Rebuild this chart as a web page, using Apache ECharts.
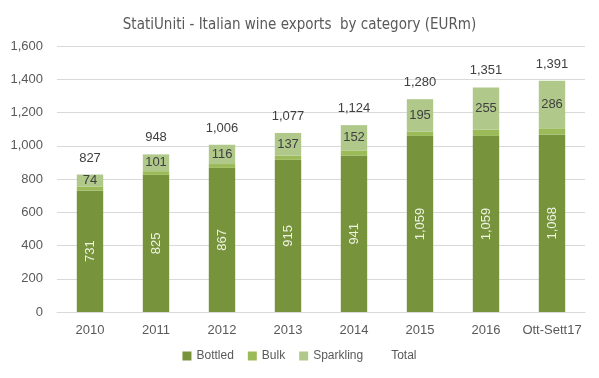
<!DOCTYPE html>
<html>
<head>
<meta charset="utf-8">
<script src="https://cdn.jsdelivr.net/npm/echarts@6/dist/echarts.min.js"></script>
<style>html,body{margin:0;padding:0;background:#fff}#c{width:599px;height:378px}</style>
</head>
<body>
<div id="c"></div>
<script>
var categories = ['2010','2011','2012','2013','2014','2015','2016','Ott-Sett17'];
var bottled = [731, 825, 867, 915, 941, 1059, 1059, 1068];
var bulk = [22, 22, 23, 25, 31, 26, 37, 37];
var sparkling = [74, 101, 116, 137, 152, 195, 255, 286];
var total = [827, 948, 1006, 1077, 1124, 1280, 1351, 1391];

var fmt = function (v) { return Number(v).toLocaleString('en-US'); };
var chart = echarts.init(document.getElementById('c'));
chart.setOption({
  animation: false,
  title: {
    text: 'StatiUniti - Italian wine exports  by category (EURm)',
    left: 'center', top: 13,
    textStyle: { fontFamily: 'Liberation Sans Narrow, DejaVu Sans Condensed, sans-serif', fontSize: 15, fontWeight: 'normal', color: '#595959' }
  },
  legend: {
    bottom: 11, left: 'center', itemWidth: 9, itemHeight: 9, itemGap: 14,
    textStyle: { fontFamily: 'Liberation Sans', fontSize: 12, color: '#595959' },
    data: [
      { name: 'Bottled', icon: 'rect' },
      { name: 'Bulk', icon: 'rect' },
      { name: 'Sparkling', icon: 'rect' },
      { name: 'Total', icon: 'none' }
    ]
  },
  grid: { left: 57, right: 14, top: 46, bottom: 66 },
  xAxis: {
    type: 'category', data: categories,
    axisLine: { lineStyle: { color: '#d9d9d9' } },
    axisTick: { show: false },
    axisLabel: { interval: 0, fontFamily: 'Liberation Sans', fontSize: 13, color: '#595959', margin: 12 }
  },
  yAxis: {
    type: 'value', min: 0, max: 1600, interval: 200,
    axisLine: { show: false }, axisTick: { show: false },
    splitLine: { lineStyle: { color: '#d9d9d9' } },
    axisLabel: { fontFamily: 'Liberation Sans', fontSize: 13, color: '#595959', margin: 14, formatter: fmt }
  },
  series: [
    { name: 'Bottled', type: 'bar', stack: 's', data: bottled, barWidth: '40%',
      itemStyle: { color: '#77933c' },
      label: { show: true, position: 'inside', rotate: 90, formatter: function (p) { return fmt(p.value); },
        fontFamily: 'Liberation Sans', fontSize: 13, color: '#eef3e2' } },
    { name: 'Bulk', type: 'bar', stack: 's', data: bulk, itemStyle: { color: '#9bbb59' } },
    { name: 'Sparkling', type: 'bar', stack: 's', data: sparkling, itemStyle: { color: '#b0c98a' },
      label: { show: true, position: 'inside', fontFamily: 'Liberation Sans', fontSize: 13, color: '#404040' } },
    { name: 'Total', type: 'bar', stack: 's', data: total.map(function () { return 0; }),
      itemStyle: { color: 'rgba(0,0,0,0)' },
      label: { show: true, position: 'top', distance: 10, formatter: function (p) { return fmt(total[p.dataIndex]); },
        fontFamily: 'Liberation Sans', fontSize: 13, color: '#404040' } }
  ]
});
</script>
</body>
</html>
